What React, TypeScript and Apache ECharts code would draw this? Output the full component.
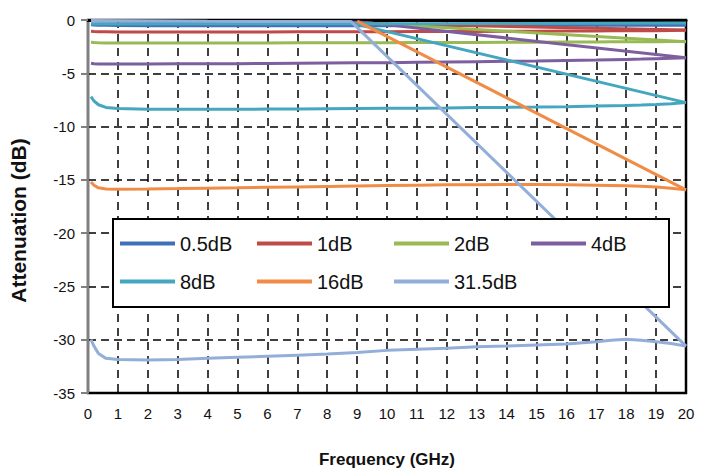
import React, { useEffect, useRef } from "react";
import * as echarts from "echarts";

// Frequency grid (GHz) shared by the measured attenuation traces
const freqs = [0.1, 0.2, 0.35, 0.6, 1, 2, 3, 4, 5, 6, 7, 8, 9, 10, 11, 12, 13, 14, 15, 16, 17, 17.5, 18, 18.5, 19, 19.5, 20];

const att05 = [-0.45, -0.47, -0.5, -0.5, -0.52, -0.54, -0.55, -0.55, -0.55, -0.55, -0.54, -0.54, -0.53, -0.53, -0.52, -0.52, -0.52, -0.51, -0.51, -0.5, -0.5, -0.5, -0.5, -0.5, -0.5, -0.5, -0.5];
const att1 = [-1.05, -1.08, -1.1, -1.1, -1.12, -1.12, -1.12, -1.12, -1.12, -1.12, -1.11, -1.11, -1.1, -1.1, -1.09, -1.08, -1.07, -1.06, -1.05, -1.04, -1.03, -1.02, -1.01, -1.0, -1.0, -0.98, -0.97];
const att2 = [-2.08, -2.12, -2.14, -2.15, -2.15, -2.15, -2.15, -2.15, -2.15, -2.15, -2.14, -2.14, -2.13, -2.13, -2.12, -2.11, -2.1, -2.09, -2.08, -2.07, -2.06, -2.05, -2.05, -2.04, -2.03, -2.02, -2.02];
const att4 = [-4.05, -4.1, -4.12, -4.12, -4.12, -4.12, -4.11, -4.1, -4.1, -4.08, -4.06, -4.04, -4.02, -4.0, -3.97, -3.94, -3.91, -3.88, -3.85, -3.8, -3.76, -3.73, -3.7, -3.67, -3.63, -3.6, -3.55];
const att8 = [-7.2, -7.6, -7.95, -8.2, -8.3, -8.37, -8.38, -8.38, -8.37, -8.36, -8.35, -8.33, -8.31, -8.29, -8.27, -8.25, -8.22, -8.2, -8.17, -8.13, -8.08, -8.05, -8.02, -7.98, -7.92, -7.85, -7.75];
const att16 = [-15.2, -15.5, -15.75, -15.85, -15.87, -15.85, -15.82, -15.78, -15.75, -15.7, -15.66, -15.62, -15.58, -15.54, -15.5, -15.47, -15.45, -15.44, -15.44, -15.46, -15.5, -15.53, -15.56, -15.6, -15.68, -15.78, -15.94];
const att315 = [-30.0, -30.6, -31.3, -31.75, -31.85, -31.9, -31.85, -31.75, -31.65, -31.55, -31.45, -31.35, -31.2, -31.0, -30.9, -30.8, -30.65, -30.6, -30.5, -30.4, -30.2, -30.05, -29.95, -30.05, -30.2, -30.35, -30.6];

// Extra traces (near 0 dB and sloping tails) as [GHz, dB]
const tail1 = [[9.5, -0.35], [20, -0.95]];
const tail2 = [[9.2, -0.25], [20, -2.05]];
const tail4 = [[0.1, -0.1], [4, -0.15], [9.2, -0.2], [20, -3.55]];
const top8 = [[0.1, -0.38], [10, -0.35], [20, -0.28]];
const tail8 = [[8.6, -0.15], [20, -7.75]];
const tail16 = [[9.0, -0.1], [20, -15.94]];
const tail315 = [[0.1, -0.05], [4, -0.12], [8.8, -0.15], [20, -30.6]];

const names = ["0.5dB", "1dB", "2dB", "4dB", "8dB", "16dB", "31.5dB"];
const colors = ["#4170B8", "#BE4B48", "#98B954", "#7D5FA0", "#45A6BF", "#F08C45", "#93AED8"];
const traces = [att05, att1, att2, att4, att8, att16, att315];
const xTicks = [0, 20, 1];
const yTicks = [-35, 0, 5];

const SANS = "'Liberation Sans', Arial, sans-serif";

export default function App() {
  const ref = useRef<HTMLDivElement>(null);
  useEffect(() => {
    if (!ref.current) return;
    const chart = echarts.init(ref.current, undefined, { renderer: "svg" });
    const mainSeries = names.map((n, i) => ({
      name: n,
      type: "line",
      symbol: "none",
      data: freqs.map((f, k) => [f, traces[i][k]]),
      lineStyle: { color: colors[i], width: 3 },
      itemStyle: { color: colors[i] },
      z: 2 + i,
    }));
    const extra = [
      { idx: 1, d: tail1 },
      { idx: 2, d: tail2 },
      { idx: 3, d: tail4 },
      { idx: 4, d: top8 },
      { idx: 4, d: tail8 },
      { idx: 5, d: tail16 },
      { idx: 6, d: tail315 },
    ].map((e, j) => ({
      name: names[e.idx] + "_t" + j,
      type: "line",
      symbol: "none",
      data: e.d,
      lineStyle: { color: colors[e.idx], width: 3 },
      itemStyle: { color: colors[e.idx] },
      z: 10 + j,
    }));
    chart.setOption({
      animation: false,
      backgroundColor: "#fff",
      grid: {
        left: 88,
        right: 25,
        top: 20,
        bottom: 81,
        show: true,
        borderColor: "#000",
        borderWidth: 2.5,
        backgroundColor: "transparent",
      },
      legend: {
        data: names.map((n) => ({ name: n, icon: "rect" })),
        left: 113,
        top: 219,
        width: 560,
        orient: "horizontal",
        backgroundColor: "#fff",
        borderColor: "#000",
        borderWidth: 2,
        borderRadius: 0,
        padding: [9, 8, 10, 7],
        itemWidth: 55,
        itemHeight: 4,
        itemGap: 7,
        textStyle: {
          fontFamily: SANS,
          fontSize: 20,
          color: "#111",
          width: 70,
          lineHeight: 31,
        },
        z: 50,
      },
      xAxis: {
        type: "value",
        min: xTicks[0],
        max: xTicks[1],
        interval: xTicks[2],
        name: "Frequency (GHz)",
        nameLocation: "middle",
        nameGap: 58,
        nameTextStyle: { fontFamily: SANS, fontSize: 17, fontWeight: "bold", color: "#111" },
        axisLine: { show: true, lineStyle: { color: "#000", width: 3 } },
        axisTick: { show: false },
        axisLabel: { fontFamily: SANS, fontSize: 15, color: "#111", margin: 13 },
        splitLine: { show: true, lineStyle: { color: "#000", width: 1.5, type: [8, 6] } },
      },
      yAxis: {
        type: "value",
        min: yTicks[0],
        max: yTicks[1],
        interval: yTicks[2],
        name: "Attenuation (dB)",
        nameLocation: "middle",
        nameGap: 59,
        nameTextStyle: { fontFamily: SANS, fontSize: 21, fontWeight: "bold", color: "#111", padding: [0, 28, 0, 0] },
        axisLine: { show: true, lineStyle: { color: "#808080", width: 2 } },
        axisTick: { show: true, inside: false, length: 7, lineStyle: { color: "#808080", width: 2 } },
        axisLabel: { fontFamily: SANS, fontSize: 15, color: "#111", margin: 13 },
        splitLine: { show: true, lineStyle: { color: "#000", width: 1.5, type: [8, 5] } },
      },
      series: [...mainSeries, ...extra],
    });
    return () => chart.dispose();
  }, []);
  return (
    <div
      ref={ref}
      style={{ position: "absolute", left: 0, top: 0, width: 711, height: 474, background: "#fff" }}
    />
  );
}
